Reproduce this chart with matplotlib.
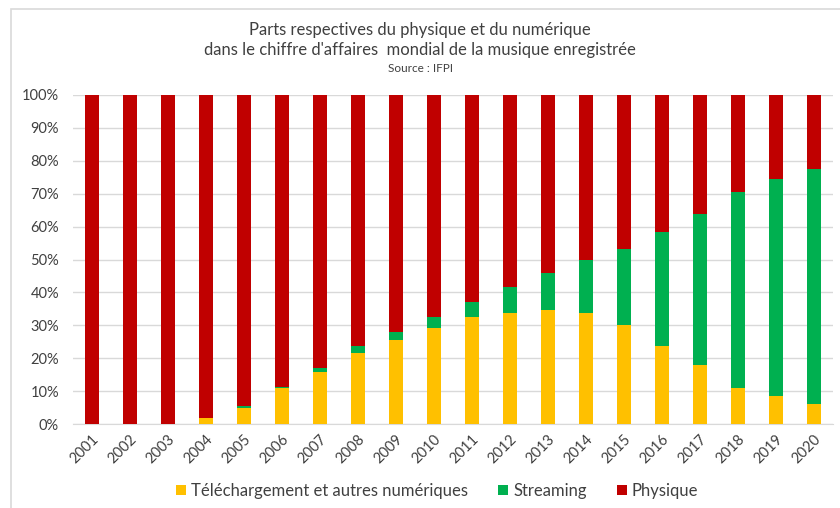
import numpy as np
import matplotlib
matplotlib.use("Agg")
import matplotlib.pyplot as plt
from matplotlib.patches import Rectangle
from matplotlib.ticker import FuncFormatter

# ----- Data (shares in %) -----
years = [str(y) for y in range(2001, 2021)]
telechargement = [0, 0, 0, 1.7, 4.9, 10.8, 15.7, 21.7, 25.5, 29.3,
                  32.4, 33.8, 34.5, 33.8, 30.1, 23.8, 18.0, 10.8, 8.4, 6.1]
streaming = [0, 0, 0, 0, 0.7, 0.5, 1.2, 1.9, 2.6, 3.1,
             4.7, 7.9, 11.4, 15.9, 23.0, 34.7, 45.7, 59.6, 66.0, 71.5]
physique = [100 - t - s for t, s in zip(telechargement, streaming)]

labels = ["Téléchargement et autres numériques", "Streaming", "Physique"]
colors = ["#FFC000", "#00B050", "#C00000"]

plt.rcParams['font.family'] = ['Lato', 'DejaVu Sans']

fig = plt.figure(figsize=(8.4, 5.08), dpi=100)
ax = fig.add_axes([73 / 840, 1 - 424 / 508, 760 / 840, 329 / 508])

# light frame like the spreadsheet chart area
fig.patches.append(Rectangle((11 / 840, -0.1), 1.2, 1 - 9 / 508 + 0.1,
                             transform=fig.transFigure, fill=False,
                             edgecolor="#d9d9d9", linewidth=1.2))

x = np.arange(len(years))
w = 0.38
bottom = np.zeros(len(years))
for vals, lab, col in zip([telechargement, streaming, physique], labels, colors):
    ax.bar(x, vals, w, bottom=bottom, color=col, label=lab, zorder=3)
    bottom += np.array(vals)

ax.set_xlim(-0.5, len(years) - 0.5)
ax.set_ylim(0, 100)
ax.set_yticks(np.arange(0, 101, 10))
ax.yaxis.set_major_formatter(FuncFormatter(lambda v, p: f"{int(v)}%"))
ax.set_xticks(x)
ax.set_xticklabels(years, rotation=45, ha="right", rotation_mode="anchor")
ax.tick_params(length=0, labelsize=10.5, colors="#404040")
ax.tick_params(axis="y", pad=10)
ax.tick_params(axis="x", pad=6)
ax.grid(axis="y", color="#d9d9d9", linewidth=1, zorder=0)
for s in ["top", "right", "left"]:
    ax.spines[s].set_visible(False)
ax.spines["bottom"].set_color("#d9d9d9")

fig.text(0.5, 1 - 30 / 508, "Parts respectives du physique et du numérique",
         ha="center", va="center", fontsize=12, color="#404040")
fig.text(0.5, 1 - 50 / 508, "dans le chiffre d'affaires  mondial de la musique enregistrée",
         ha="center", va="center", fontsize=12, color="#404040")
fig.text(0.5, 1 - 68 / 508, "Source : IFPI",
         ha="center", va="center", fontsize=8.5, color="#404040")

fig.legend(loc="center", bbox_to_anchor=(437 / 840, 1 - 491 / 508), ncol=3,
           frameon=False, fontsize=12, handlelength=0.6, handleheight=0.6,
           handletextpad=0.3, columnspacing=1.8, labelcolor="#404040")

fig.savefig("out.png", dpi=100)
